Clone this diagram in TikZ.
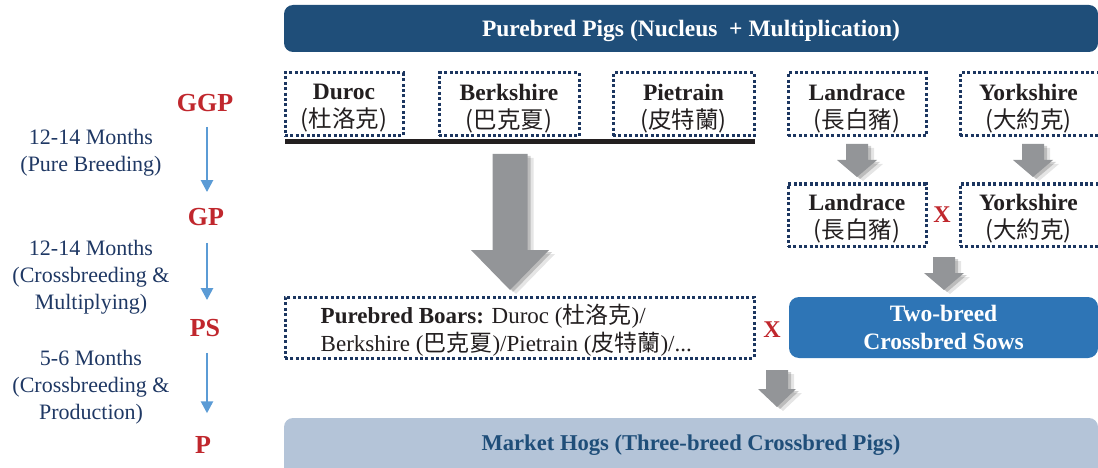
\documentclass[tikz,border=0pt]{standalone}
\usepackage{fontspec}
\setmainfont{Liberation Serif}
\newfontfamily\cjk{Noto Sans CJK TC}
\usetikzlibrary{arrows.meta}
\definecolor{banner}{HTML}{1F4E79}
\definecolor{sowblue}{HTML}{2E75B6}
\definecolor{hogbg}{HTML}{B4C4D8}
\definecolor{navy}{HTML}{1F3864}
\definecolor{dotc}{HTML}{1C3660}
\definecolor{redl}{HTML}{C0272D}
\definecolor{flowblue}{HTML}{5B9BD5}
\definecolor{arrgray}{HTML}{939598}
\definecolor{ink}{HTML}{231F20}
\newcommand{\gArrow}[6]{% x, top, shaft hw, head hw, head start, tip
  \begin{scope}[shift={(#1,#2)}]
    \fill[black,opacity=.10] (-#3+6,4) -- (#3+6,4) -- (#3+6,#5+4) -- (#4+6,#5+4) -- (6,#6+4) -- (-#4+6,#5+4) -- (-#3+6,#5+4) -- cycle;
    \fill[black,opacity=.18] (-#3+3,2) -- (#3+3,2) -- (#3+3,#5+2) -- (#4+3,#5+2) -- (3,#6+2) -- (-#4+3,#5+2) -- (-#3+3,#5+2) -- cycle;
    \fill[arrgray] (-#3,0) -- (#3,0) -- (#3,#5) -- (#4,#5) -- (0,#6) -- (-#4,#5) -- (-#3,#5) -- cycle;
  \end{scope}}
\begin{document}
\begin{tikzpicture}[x=1pt,y=-1pt,
  dotbox/.style={draw=dotc, line width=3pt, dash pattern=on 3pt off 2.4pt, inner sep=0pt},
  breedtext/.style={font=\fontsize{23.5}{28}\selectfont, text=ink, align=center, inner sep=0pt},
  stage/.style={font=\fontsize{26}{28}\selectfont\bfseries, text=redl, inner sep=0pt},
  leftnote/.style={font=\fontsize{22}{27}\selectfont, text=navy, align=center, inner sep=0pt},
  flow/.style={draw=flowblue, line width=2.5pt, -{Triangle[width=12pt,length=12pt]}},
  xmark/.style={font=\fontsize{24}{26}\selectfont\bfseries, text=redl, inner sep=0pt},
  bar/.style={draw=ink, line width=4.5pt},
  wide/.style={minimum width=814pt, rounded corners=9pt, inner sep=0pt}
]
\useasboundingbox (0,0) rectangle (1098,468);
\clip (0,0) rectangle (1098,468);

% title banner
\node[wide, fill=banner, minimum height=47pt] (top) at (691,28.5) {};
\node[inner sep=0pt, text=white, font=\fontsize{23.5}{27}\selectfont\bfseries] (toptext) at ([yshift=-2pt]top.center)
      {Purebred Pigs (Nucleus\ \ + Multiplication)};

% row 1 breeds
\node[dotbox, minimum width=118pt, minimum height=63pt] (duroc) at (344,104.5) {};
\node[breedtext] (duroc-t) at ([yshift=-4pt]duroc.center) {\textbf{Duroc}\\{\cjk (杜洛克)}};
\node[dotbox, minimum width=140pt, minimum height=63pt] (berk) at (509,104.5) {};
\node[breedtext] (berk-t) at ([yshift=-4pt]berk.center) {\textbf{Berkshire}\\{\cjk (巴克夏)}};
\node[dotbox, minimum width=141pt, minimum height=63pt] (piet) at (683.5,104.5) {};
\node[breedtext] (piet-t) at ([yshift=-4pt]piet.center) {\textbf{Pietrain}\\{\cjk (皮特蘭)}};
\node[dotbox, minimum width=138pt, minimum height=63pt] (land1) at (857,104.5) {};
\node[breedtext] (land1-t) at ([yshift=-4pt]land1.center) {\textbf{Landrace}\\{\cjk (長白豬)}};
\node[dotbox, minimum width=141pt, minimum height=63pt] (york1) at (1030.5,104.5) {};
\node[breedtext] (york1-t) at ([yshift=-4pt,xshift=-2pt]york1.center) {\textbf{Yorkshire}\\{\cjk (大約克)}};

\draw[bar] (285,141.5) -- (755,141.5);

% row 2 breeds
\node[dotbox, minimum width=138pt, minimum height=62pt] (land2) at (857,215) {};
\node[breedtext] (land2-t) at ([yshift=-4pt]land2.center) {\textbf{Landrace}\\{\cjk (長白豬)}};
\node[dotbox, minimum width=141pt, minimum height=62pt] (york2) at (1030.5,215) {};
\node[breedtext] (york2-t) at ([yshift=-4pt,xshift=-2pt]york2.center) {\textbf{Yorkshire}\\{\cjk (大約克)}};
\node[xmark] (x1) at (942,215) {X};

% gray arrows
\gArrow{510}{154}{17.5}{39}{96}{136}
\gArrow{857}{144}{11}{20}{16}{33}
\gArrow{1033}{144}{11}{20}{16}{33}
\gArrow{944}{257}{11}{20}{16}{33}
\gArrow{777}{370}{11}{19}{19}{37}

% row 3
\node[dotbox, minimum width=469pt, minimum height=61pt] (boars) at (519.5,327.5) {};
\node[anchor=west, inner sep=0pt, align=left, text=ink, font=\fontsize{23}{28}\selectfont] (boarstext) at ([xshift=37pt,yshift=-3pt]boars.west)
  {\textbf{Purebred Boars:} Duroc ({\cjk 杜洛克})/\\Berkshire ({\cjk 巴克夏})/Pietrain ({\cjk 皮特蘭})/...};
\node[xmark] (x2) at (772,330) {X};
\node[fill=sowblue, rounded corners=10pt, minimum width=309pt, minimum height=61pt, inner sep=0pt] (sows) at (943.5,327.5) {};
\node[inner sep=0pt, text=white, align=center, font=\fontsize{23.5}{28}\selectfont\bfseries] (sowstext) at (sows.center)
      {Two-breed\\Crossbred Sows};

% market hogs
\node[wide, fill=hogbg, minimum height=62pt] (hogs) at (691,449) {};
\node[inner sep=0pt, text=banner, font=\fontsize{22.6}{27}\selectfont\bfseries] (hogstext) at (691,445)
  {Market Hogs (Three-breed Crossbred Pigs)};

% left timeline
\node[stage] (ggp) at (205,103) {GGP};
\node[stage] (gp) at (206,217) {GP};
\node[stage] (ps) at (205,328) {PS};
\node[stage] (p) at (203,445) {P};
\draw[flow, shorten <=15pt, shorten >=16pt] ([xshift=2pt]ggp.south) -- ([xshift=1pt]gp.north);
\draw[flow, shorten <=17pt, shorten >=19pt] ([xshift=1pt]gp.south) -- ([xshift=2pt]ps.north);
\draw[flow, shorten <=16pt, shorten >=23pt] ([xshift=2pt]ps.south) -- ([xshift=4pt]p.north);

\node[leftnote] (n1) at (91,153) {12-14 Months\\(Pure Breeding)};
\node[leftnote] (n2) at (91,277) {12-14 Months\\(Crossbreeding \&\\Multiplying)};
\node[leftnote] (n3) at (91,387) {5-6 Months\\(Crossbreeding \&\\Production)};
\end{tikzpicture}
\end{document}
